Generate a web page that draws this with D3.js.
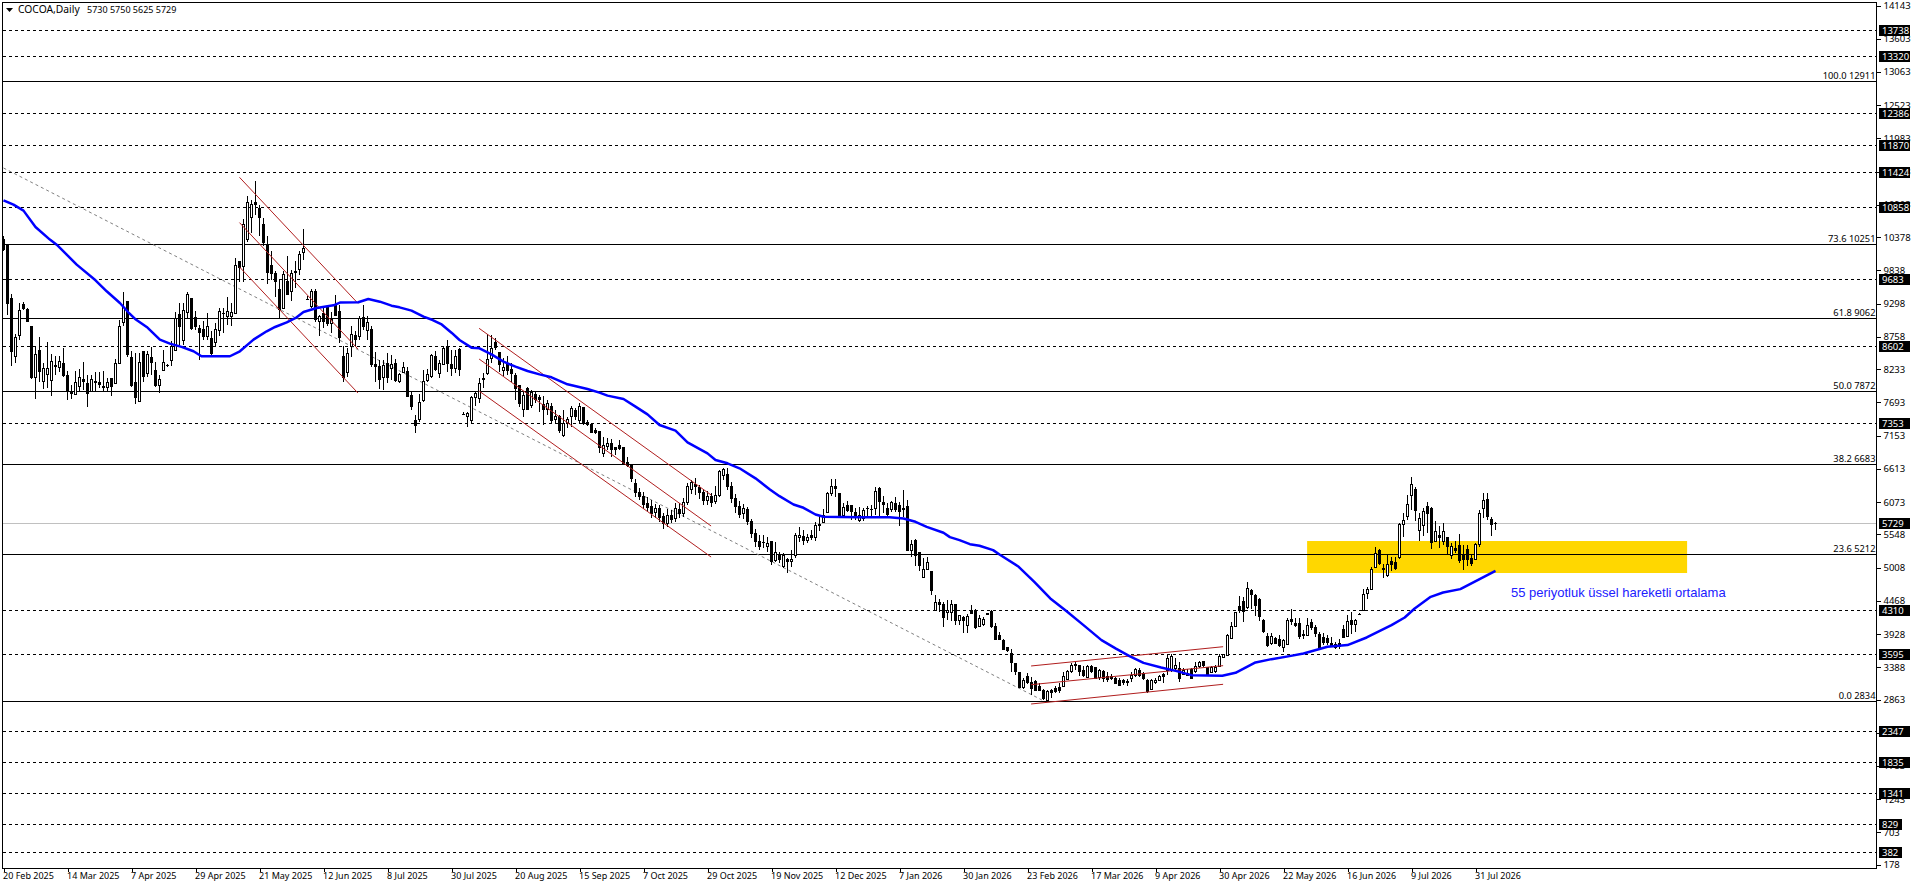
<!DOCTYPE html>
<html>
<head>
<meta charset="utf-8">
<title>COCOA,Daily</title>
<script src="https://cdnjs.cloudflare.com/ajax/libs/d3/7.8.5/d3.min.js"></script>
<style>
  html, body { margin: 0; padding: 0; background: #fff; overflow: hidden; }
  text { font-family: "Noto Sans", sans-serif; font-size: 9.5px; fill: #000; white-space: pre; }
</style>
</head>
<body>
<svg id="chart" width="1916" height="888"></svg>
<script>
// candles, one value per bar
const opens = [
  10340,10250,9380,8435,8783,9281,9195,8924,8098,8542,8028,8147,8044,8299,8255,8331,8136,7870,7817,7947,
  8066,8001,7870,8033,8017,7947,7936,8087,7995,8326,8984,9325,8423,8022,7703,8521,8163,8423,8217,7968,
  8217,8290,8369,8542,9119,8702,9157,9379,9065,8891,8875,8767,8732,8669,8864,9140,9092,9092,9135,9975,
  9904,10338,10690,10934,10841,10581,10246,9915,9785,9525,9216,9661,9487,9815,9850,10132,9365,9254,9487,9000,
  9130,9227,8967,9281,9162,8445,8174,8604,8778,8756,9065,8864,8878,8315,8272,8098,8326,8244,8326,8028,
  8174,8201,7811,7390,7422,7720,8045,8110,8441,8165,8316,8598,8311,8246,8544,7500,7460,7390,7769,7758,
  8075,8165,8408,8668,8500,8208,8327,8229,8137,7959,7579,7921,7634,7823,7769,7650,7569,7623,7406,7460,
  7162,7352,7460,7558,7390,7607,7363,7325,7238,7211,6864,6983,7027,6957,6994,6951,6718,6675,6377,6230,
  6160,6050,6000,5900,5960,5830,5730,5860,5800,5950,5880,6060,6270,6360,6310,6220,6100,6170,6080,6180,
  6500,6523,6330,6130,6000,5880,5950,5760,5560,5430,5420,5345,5437,5117,5210,5031,5145,5101,5199,5491,
  5518,5453,5535,5497,5700,5735,5898,6212,6320,6212,5860,6022,6011,5903,5768,5805,5970,5955,5968,6293,
  6065,5968,5952,6049,6022,5965,6006,5291,5453,5247,4841,4977,4939,4305,4440,4413,4277,4277,4413,4153,
  4196,4072,4315,4315,4045,4082,4255,4299,4055,3898,3828,3709,3611,3449,3303,3059,3232,3140,3151,3070,
  3016,2853,3016,3043,3054,3070,3194,3313,3433,3422,3330,3221,3395,3378,3221,3313,3232,3232,3205,3178,
  3167,3156,3205,3248,3340,3286,3178,3026,3135,3178,3275,3340,3340,3368,3368,3275,3290,3351,3313,3395,
  3476,3384,3300,3313,3405,3541,3584,3855,4055,4375,4451,4353,4640,4559,4489,4153,3893,3774,3855,3839,
  3709,3763,4169,4099,4099,3920,3909,4110,4034,3925,3871,3860,3774,3763,3774,4001,3893,4153,4082,4250,
  4305,4586,4651,5003,5290,4985,4873,5101,5090,5166,5713,5832,6174,6282,5605,5686,5995,5968,5426,5535,
  5437,5497,5210,5323,5372,5209,5301,5155,5139,5382,5962,6108,5783,5730
];
const highs = [
  10400,10250,9460,8810,9308,9325,9227,8940,8600,8748,8326,8667,8477,8445,8445,8570,8201,7974,8201,8234,
  8347,8136,8136,8190,8190,8206,8082,8095,8400,9038,9487,9325,8532,8488,8488,8521,8532,8597,8353,8136,
  8542,8310,8685,9162,9308,9300,9487,9385,9173,8956,9010,9146,8848,8983,9227,9227,9406,9308,10040,9985,
  10674,11053,10988,11286,10906,10690,10392,10148,9823,9688,9823,10078,9850,9985,10148,10516,9420,9541,9541,9119,
  9230,9281,9162,9444,9281,8604,8570,8929,8848,9092,9281,9092,8929,8515,8380,8380,8488,8461,8390,8174,
  8353,8271,7865,7487,7823,8219,8230,8480,8533,8381,8609,8706,8544,8544,8571,7530,7542,7796,7867,8083,
  8175,8804,8787,8733,8517,8408,8452,8327,8175,7975,7867,7948,7894,7867,7812,7790,7731,7677,7569,7487,
  7569,7460,7634,7596,7677,7623,7406,7352,7282,7217,7135,7108,7092,6973,7081,6962,6810,6691,6450,6300,
  6240,6150,6110,6040,6030,5900,5960,5940,6060,6060,6140,6390,6431,6470,6350,6290,6250,6220,6340,6594,
  6621,6621,6400,6200,6090,6040,5990,5800,5640,5540,5535,5507,5437,5415,5253,5237,5155,5291,5562,5659,
  5616,5551,5616,5751,5860,5952,6239,6455,6439,6223,6049,6093,6022,5968,5995,5979,6006,6022,6320,6309,
  6174,6049,6093,6147,6076,6266,6103,5453,5464,5264,5155,5182,4955,4559,4494,4451,4478,4478,4413,4234,
  4223,4250,4397,4326,4234,4207,4277,4315,4099,3963,3839,3720,3692,3460,3313,3205,3286,3232,3178,3124,
  3026,3016,3026,3081,3135,3313,3340,3460,3476,3422,3405,3422,3422,3395,3351,3340,3313,3275,3232,3205,
  3189,3189,3313,3368,3368,3313,3189,3189,3205,3259,3297,3600,3600,3530,3476,3368,3351,3368,3476,3492,
  3492,3395,3405,3422,3600,3600,3925,4126,4288,4543,4532,4765,4651,4570,4505,4164,3936,3936,3871,3909,
  3839,4180,4326,4180,4180,3990,4180,4164,4072,3963,3936,3909,3871,3801,3839,4072,4234,4288,4164,4261,
  4651,4695,5009,5345,5317,5063,5220,5182,5172,5735,5887,6185,6483,6309,5887,5968,6076,5984,5762,5686,
  5724,5507,5399,5437,5551,5372,5372,5231,5409,5950,6217,6227,5837,5750
];
const lows = [
  10160,9108,8290,8340,8713,9200,9010,8080,7752,8028,7909,7920,7795,8136,8190,8110,7730,7752,7817,7870,
  7892,7622,7860,7870,7920,7880,7880,7795,7990,8326,8930,8434,7947,7660,7703,8028,8109,8136,7947,7838,
  8217,8270,8282,8532,8605,8632,9065,8875,8875,8380,8700,8705,8460,8605,8778,8821,8956,8929,9135,9644,
  9644,10294,10446,10744,10392,10229,9623,9688,9400,9048,9216,9444,9335,9552,9758,10013,9360,9227,8994,8767,
  8900,8929,8821,9108,8658,8028,8109,8434,8605,8713,8875,8713,8272,8028,7903,7892,8001,8055,8028,8001,
  8163,7784,7567,7200,7379,7704,8029,8083,8208,8083,8300,8192,8127,8165,8127,7488,7298,7352,7639,7677,
  7921,8137,8327,8544,8192,8121,8137,8029,7731,7623,7460,7565,7596,7677,7542,7325,7487,7352,7352,7189,
  7135,7271,7298,7406,7352,7325,7309,7200,7179,6875,6810,6919,6810,6837,6919,6675,6648,6404,6160,6100,
  5960,5910,5820,5810,5740,5640,5660,5730,5740,5820,5830,6020,6200,6180,6130,6030,6030,5990,6040,6160,
  6430,6270,6060,5900,5810,5800,5700,5490,5340,5300,5318,5264,5047,5101,5074,4993,4912,5020,5155,5426,
  5372,5399,5453,5443,5605,5724,5887,6168,6147,5805,5822,5914,5778,5778,5751,5768,5833,5833,5860,5833,
  5887,5805,5914,5914,5686,5833,5280,5182,5036,4955,4830,4966,4559,4305,4288,4045,4153,4142,4072,4072,
  3936,3936,4261,4012,4034,4061,4245,4018,3839,3828,3676,3638,3313,3259,3043,3026,3113,2934,3016,3005,
  2853,2834,2891,2961,2972,3059,3189,3286,3340,3243,3232,3216,3297,3200,3178,3151,3151,3178,3108,3081,
  3097,3086,3151,3232,3232,3178,2972,3016,3113,3162,3135,3259,3313,3313,3151,3259,3259,3189,3286,3368,
  3395,3259,3286,3297,3395,3530,3568,3839,4045,4272,4126,4342,4342,4218,4142,3947,3709,3747,3774,3720,
  3638,3747,4072,4034,3839,3839,3893,3990,3871,3692,3747,3747,3709,3692,3692,3855,3871,3925,3963,4245,
  4305,4494,4640,4993,5047,4841,4857,4955,4966,5145,5507,5778,5941,5768,5437,5518,5562,5307,5415,5329,
  5372,5210,5145,5237,5074,4965,5034,5034,5128,5340,5810,5783,5523,5625
];
const closes = [
  10180,9292,8515,8745,9184,9216,9010,8098,8472,8190,8244,8244,8364,8272,8364,8136,7870,7838,8022,8098,
  8039,7838,8066,8023,7984,7936,8017,7947,8320,8918,9227,8477,7974,7773,8342,8109,8477,8337,7974,8066,
  8342,8285,8604,9054,8929,9184,9444,8891,8929,8832,8767,8929,8488,8875,9173,9130,9173,9146,9915,9877,
  10581,10934,10906,10915,10690,10284,9796,9785,9661,9200,9769,9444,9785,9805,10094,10191,9360,9487,9038,9092,
  9010,8967,9038,9108,8740,8098,8488,8794,8713,9049,8929,8994,8315,8272,8066,8299,8098,8309,8055,8147,
  8261,7784,7632,7309,7688,8029,8148,8452,8219,8327,8571,8327,8240,8435,8229,7490,7504,7769,7829,8002,
  8068,8392,8571,8582,8300,8262,8208,8165,7921,7677,7812,7569,7850,7731,7742,7580,7677,7390,7460,7233,
  7352,7417,7585,7460,7623,7352,7325,7200,7200,6962,6994,7027,6919,6930,6935,6691,6664,6458,6220,6160,
  6040,5990,5880,5970,5820,5720,5860,5790,5960,5890,6060,6320,6388,6320,6230,6100,6170,6060,6180,6566,
  6594,6330,6130,6000,5870,5960,5760,5560,5430,5350,5410,5399,5101,5253,5145,5210,5101,5139,5535,5535,
  5443,5497,5491,5697,5697,5860,6212,6320,6288,5843,5984,5941,5914,5843,5860,5941,5960,5945,6244,6076,
  6033,5876,6065,5952,5914,5955,5291,5388,5199,5047,4977,5096,4641,4440,4413,4196,4315,4413,4142,4229,
  4153,4218,4261,4028,4180,4169,4250,4045,3844,3844,3682,3655,3465,3319,3059,3178,3135,3048,3016,3016,
  2880,2988,2983,3000,3016,3232,3313,3422,3411,3313,3254,3395,3313,3205,3340,3205,3194,3200,3124,3097,
  3146,3140,3250,3351,3248,3205,2988,3178,3178,3243,3243,3530,3568,3422,3205,3340,3260,3205,3395,3460,
  3422,3270,3380,3384,3568,3595,3909,4055,4272,4310,4288,4667,4575,4396,4207,3963,3747,3893,3774,3747,
  3817,4153,4126,4061,3882,3900,4061,4028,3936,3709,3785,3790,3720,3709,3730,3871,4126,4088,4153,4245,
  4570,4651,4976,5240,5074,4975,5063,5058,4993,5713,5778,6038,6363,5941,5811,5925,5887,5410,5600,5491,
  5600,5345,5356,5291,5128,5139,5139,5074,5382,5890,6092,5837,5702,5729
];

// 55 period EMA, vertices
const emaBars = [
  0,2.5,5,8,11.6,13.3,15.8,18.3,23,25.8,29.1,31.2,32.9,35.8,39.1,41.6,44.5,47.5,49.5,56.6,
  59.1,62.5,65.8,67.9,70.8,73.3,75,78.3,82.5,84.1,88.7,91.2,94.1,97,99,102,105,107.3,109.4,112,
  114,117,119,122,125,128,131,134,137,141,146,149,151,155,158,161,164,168,171,176,
  178,181,184,188,191.6,194,197.5,200,203,205,214,221.5,225,228,230.8,235,236.6,239,241.6,244,
  247.4,249,253.8,257.7,261.7,265.7,270,274.5,278,281.5,285,289.4,293.3,297,304.7,308,313,317,321.5,325,
  331,336,340.8,347,350.3,352.8,356.8,359.9,364.2,367.7,373
];
const emaValues = [
  10977,10906,10809,10543,10338,10256,10094,9931,9677,9498,9308,9157,9048,8918,8713,8648,8594,8523,8442,8442,
  8523,8713,8848,8918,8994,9075,9162,9227,9270,9314,9319,9373,9329,9264,9237,9183,9085,9031,8966,8825,
  8706,8582,8571,8473,8354,8273,8202,8148,8100,7986,7910,7850,7802,7747,7623,7498,7325,7233,7043,6864,
  6756,6702,6621,6458,6277,6168,6033,5979,5870,5833,5827,5827,5805,5751,5670,5573,5502,5453,5388,5361,
  5291,5220,5020,4776,4505,4300,4072,3828,3693,3568,3459,3384,3324,3259,3248,3297,3465,3519,3568,3611,
  3720,3747,3871,4072,4196,4342,4532,4602,4657,4776,4955
];

const dateLabels = [
  "20 Feb 2025","14 Mar 2025","7 Apr 2025","29 Apr 2025","21 May 2025","12 Jun 2025","8 Jul 2025","30 Jul 2025",
  "20 Aug 2025","15 Sep 2025","7 Oct 2025","29 Oct 2025","19 Nov 2025","12 Dec 2025","7 Jan 2026","30 Jan 2026",
  "23 Feb 2026","17 Mar 2026","9 Apr 2026","30 Apr 2026","22 May 2026","16 Jun 2026","9 Jul 2026","31 Jul 2026"
];
const dateBars = dateLabels.map((d, k) => k * 16);

const priceTicks = [14143,13603,13063,12523,11983,11443,10903,10378,9838,9298,8758,8233,7693,7153,6613,6073,5548,5008,4468,3928,3388,2863,2323,1783,1243,703,178];
const dashedLevels = [13738,13320,12386,11870,11424,10858,9683,8602,7353,4310,3595,2347,1835,1341,829,382];
const fibRatios = ["100.0","73.6","61.8","50.0","38.2","23.6","0.0"];
const fibPrices = [12911,10251,9062,7872,6683,5212,2834];
const lastPrice = 5729;

// trend objects as bar1, price1, bar2, price2
const channelLines = [
  [59,11350,88.6,9303],[59,10614,88.6,8560],[59,9893,88.6,7845],
  [118.9,8896,176.9,6187],[118.9,8397,176.9,5683],[118.9,7877,176.9,5179],
  [256.9,3408,304.9,3721],[256.9,3104,304.9,3413],[256.9,2790,304.9,3110]
];
const fibTrend = [0,11502,259.6,2855];
const zone = [325.9,5439,420.9,4919];

const titleName = "COCOA,Daily";
const titleQuote = "5730 5750 5625 5729";
const emaNote = "55 periyotluk üssel hareketli ortalama";

(function (){

    const left = 2.5, right = 1876.5, top = 2.5, bottom = 868.5;

    const svg = d3.select('svg#chart');
    const x = d3.scaleLinear().domain([0, 373]).range([3.5, 1495.5]);
    const y = d3.scaleLinear().domain([178, 14143]).range([864.7, 5.5]);
    const crisp = v => Math.floor(v) + 0.5;

    const bars = d3.range(opens.length).map(i => ({i, o: opens[i], h: highs[i], l: lows[i], c: closes[i]}));

    // zone sits under everything
    svg.append('rect')
        .attr('x', x(zone[0])).attr('y', y(zone[1]))
        .attr('width', x(zone[2]) - x(zone[0])).attr('height', y(zone[3]) - y(zone[1]))
        .attr('fill', '#ffd700');

    const hLine = (price, dash, color) => svg.append('line')
        .attr('x1', left).attr('x2', right)
        .attr('y1', crisp(y(price))).attr('y2', crisp(y(price)))
        .attr('stroke', color)
        .attr('stroke-dasharray', dash)
        .attr('shape-rendering', 'crispEdges');

    dashedLevels.forEach(p => hLine(p, '3,3', '#000'));
    fibPrices.forEach(p => hLine(p, null, '#000'));
    hLine(lastPrice, null, '#c0c0c0');

    svg.append('line')
        .attr('x1', x(fibTrend[0])).attr('y1', y(fibTrend[1]))
        .attr('x2', x(fibTrend[2])).attr('y2', y(fibTrend[3]))
        .attr('stroke', '#808080')
        .attr('stroke-dasharray', '3,3');

    // candles
    const candle = svg.append('g').attr('shape-rendering', 'crispEdges')
        .selectAll('g').data(bars).join('g');

    candle.append('line')
        .attr('x1', d => x(d.i)).attr('x2', d => x(d.i))
        .attr('y1', d => y(d.h)).attr('y2', d => y(d.l))
        .attr('stroke', '#000');

    candle.append('rect')
        .attr('x', d => x(d.i) - 1).attr('width', 2)
        .attr('y', d => y(Math.max(d.o, d.c)))
        .attr('height', d => Math.abs(y(d.o) - y(d.c)))
        .attr('fill', d => d.c >= d.o ? '#fff' : '#000')
        .attr('stroke', '#000');

    // channels
    svg.append('g').selectAll('line').data(channelLines).join('line')
        .attr('x1', d => x(d[0])).attr('y1', d => y(d[1]))
        .attr('x2', d => x(d[2])).attr('y2', d => y(d[3]))
        .attr('stroke', '#b01e1e');

    // moving average
    const emaLine = d3.line().x(d => x(d)).y((d, k) => y(emaValues[k]));
    svg.append('path')
        .attr('d', emaLine(emaBars))
        .attr('fill', 'none')
        .attr('stroke', '#0000ff')
        .attr('stroke-width', 2.5)
        .attr('stroke-linejoin', 'round');

    // frame
    svg.append('rect')
        .attr('x', left).attr('y', top)
        .attr('width', right - left).attr('height', bottom - top)
        .attr('fill', 'none').attr('stroke', '#000')
        .attr('shape-rendering', 'crispEdges');

    // price axis
    const priceAxis = svg.append('g')
        .attr('transform', `translate(${right},0)`)
        .call(d3.axisRight(y).tickValues(priceTicks).tickFormat(d3.format('d')).tickSize(4).tickPadding(3));
    priceAxis.select('.domain').remove();
    priceAxis.selectAll('.tick line').attr('shape-rendering', 'crispEdges');

    // time axis
    const timeAxis = svg.append('g')
        .attr('transform', `translate(0,${bottom})`)
        .call(d3.axisBottom(x).tickValues(dateBars).tickFormat((d, k) => dateLabels[k]).tickSize(3).tickPadding(1));
    timeAxis.select('.domain').remove();
    timeAxis.selectAll('.tick line').attr('shape-rendering', 'crispEdges');
    timeAxis.selectAll('.tick text').attr('text-anchor', 'start').attr('x', -1).style('font-size', '9px');

    // level flags over the axis
    const flags = dashedLevels.concat([lastPrice]);
    const flag = svg.append('g').selectAll('g').data(flags).join('g')
        .attr('transform', d => `translate(${right + 2},${crisp(y(d))})`);
    flag.append('rect')
        .attr('x', 0).attr('y', -6)
        .attr('width', d => d >= 1000 ? 31 : 23).attr('height', 11)
        .attr('fill', '#000')
        .attr('shape-rendering', 'crispEdges');
    flag.append('text')
        .attr('x', 3.5).attr('y', 3)
        .style('fill', '#fff')
        .text(d => d);

    // fib captions
    svg.append('g').selectAll('text').data(fibPrices).join('text')
        .attr('x', right - 1)
        .attr('y', d => crisp(y(d)) - 2.5)
        .attr('text-anchor', 'end')
        .style('font-size', '9.3px')
        .text((d, k) => fibRatios[k] + ' ' + d);

    // header
    const head = d3.path();
    head.moveTo(6, 8); head.lineTo(13, 8); head.lineTo(9.5, 12); head.closePath();
    svg.append('path').attr('d', head.toString()).attr('fill', '#000');
    svg.append('text').attr('x', 18).attr('y', 13).style('font-size', '10.3px').text(titleName);
    svg.append('text').attr('x', 87).attr('y', 13).style('font-size', '9px').text(titleQuote);

    svg.append('text')
        .attr('x', 1511).attr('y', 597)
        .style('font-family', '"Liberation Sans", sans-serif')
        .style('font-size', '13px')
        .style('fill', '#2020ff')
        .text(emaNote);
})();
</script>
</body>
</html>
